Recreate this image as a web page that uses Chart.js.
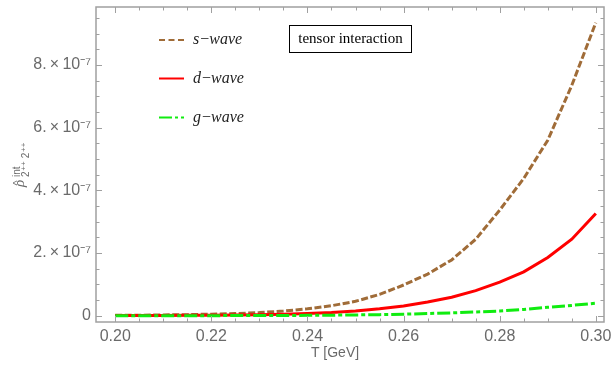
<!DOCTYPE html>
<html>
<head>
<meta charset="utf-8">
<script src="https://cdn.jsdelivr.net/npm/chart.js@4.4.1/dist/chart.umd.min.js"></script>
<style>
    html, body { margin: 0; padding: 0; background: #fff; }
    #wrap { width: 611px; height: 367px; }
</style>
</head>
<body>
<div id="wrap"><canvas id="chart" width="611" height="367"></canvas></div>
<script>
// T [GeV]
const temperatures = [
    0.200, 0.205, 0.210, 0.215, 0.220, 0.225, 0.230, 0.235, 0.240, 0.245, 0.250,
    0.255, 0.260, 0.265, 0.270, 0.275, 0.280, 0.285, 0.290, 0.295, 0.300
];

// values in units of 1e-7
const sWave = [
    0.012, 0.017, 0.025, 0.035, 0.05, 0.07, 0.10, 0.15, 0.22, 0.32, 0.46,
    0.68, 0.98, 1.33, 1.78, 2.44, 3.37, 4.38, 5.60, 7.35, 9.35
];
const dWave = [
    0.004, 0.006, 0.008, 0.012, 0.017, 0.025, 0.035, 0.05, 0.07, 0.10, 0.15,
    0.22, 0.31, 0.44, 0.59, 0.80, 1.07, 1.40, 1.86, 2.44, 3.26
];
const gWave = [
    0.0007, 0.001, 0.0015, 0.002, 0.003, 0.004, 0.006, 0.008, 0.012, 0.018, 0.025,
    0.035, 0.05, 0.07, 0.09, 0.12, 0.15, 0.20, 0.27, 0.33, 0.40
];
const valueUnit = 1e-7;

const xTickValues = [0.20, 0.22, 0.24, 0.26, 0.28, 0.30];
const xTickLabels = ['0.20', '0.22', '0.24', '0.26', '0.28', '0.30'];
const yTickValues = [0, 2e-7, 4e-7, 6e-7, 8e-7];
const yTickLabels = ['0', '2.\u2009\u00d7\u200910\u207b\u2077', '4.\u2009\u00d7\u200910\u207b\u2077', '6.\u2009\u00d7\u200910\u207b\u2077', '8.\u2009\u00d7\u200910\u207b\u2077'];
const boxLabel = 'tensor interaction';
const xTitle = 'T [GeV]';

const colors = {
    s: '#a06c38',
    d: '#ff0000',
    g: '#10ec10'
};
const dashes = {
    s: [7, 2.5],
    d: [],
    g: [13, 3, 4, 3]
};
const AXIS_GRAY = '#6a6a6a';
const FRAME_GRAY = '#a0a0a0';

function toPoints(values) {
    return temperatures.map((t, i) => ({ x: t, y: values[i] * valueUnit }));
}

function makeDataset(name, values, order) {
    return {
        label: name + '-wave',
        data: toPoints(values),
        borderColor: colors[name],
        borderDash: dashes[name],
        borderWidth: 3,
        pointRadius: 0,
        tension: 0,
        fill: false,
        order
    };
}

function dropScalePadding(scale) {
    scale.paddingTop = 0;
    scale.paddingBottom = 0;
    scale.paddingLeft = 0;
    scale.paddingRight = 0;
}

function drawTicks(ctx, area, xScale, yScale) {
    ctx.strokeStyle = FRAME_GRAY;
    ctx.lineWidth = 1;
    ctx.beginPath();
    for (let i = 0; i <= 20; i++) {
        const px = Math.round(xScale.getPixelForValue(0.2 + i * 0.005)) + 0.5;
        const len = i % 4 === 0 ? 6 : 3.5;
        ctx.moveTo(px, area.bottom);
        ctx.lineTo(px, area.bottom - len);
        ctx.moveTo(px, area.top);
        ctx.lineTo(px, area.top + len);
    }
    for (let i = 0; i <= 19; i++) {
        const py = Math.round(yScale.getPixelForValue(i * 0.5e-7)) + 0.5;
        const len = i % 4 === 0 ? 6 : 3.5;
        ctx.moveTo(area.left, py);
        ctx.lineTo(area.left + len, py);
        ctx.moveTo(area.right, py);
        ctx.lineTo(area.right - len, py);
    }
    ctx.stroke();
}

function drawYLabel(ctx) {
    ctx.save();
    ctx.translate(24, 187);
    ctx.rotate(-Math.PI / 2);
    ctx.fillStyle = AXIS_GRAY;
    ctx.textAlign = 'left';
    ctx.textBaseline = 'alphabetic';
    ctx.font = 'italic 15px "Liberation Serif"';
    ctx.fillText('\u03c1', 0, 0);
    ctx.font = '11px "Liberation Sans"';
    ctx.fillText('^', 1.5, -3);
    ctx.font = '10px "Liberation Sans"';
    ctx.fillText('int', 10, -4);
    let x = 10;
    for (const part of ['2', '++', '2', '++']) {
        if (part.endsWith('+')) {
            ctx.font = '8px "Liberation Sans"';
            ctx.fillText(part, x, 1.5);
            x += ctx.measureText(part).width + 3;
        } else {
            ctx.font = '10px "Liberation Sans"';
            ctx.fillText(part, x, 4.5);
            x += ctx.measureText(part).width + 0.8;
        }
    }
    ctx.restore();
}

function drawLegend(ctx) {
    const rows = [
        { name: 's', y: 40 },
        { name: 'd', y: 78.5 },
        { name: 'g', y: 117.5 }
    ];
    for (const row of rows) {
        ctx.save();
        ctx.strokeStyle = colors[row.name];
        ctx.lineWidth = 2;
        ctx.setLineDash(row.name === 's' ? [6, 3.5] : row.name === 'g' ? [13, 3, 3, 3] : []);
        ctx.beginPath();
        ctx.moveTo(159, row.y);
        ctx.lineTo(184, row.y);
        ctx.stroke();
        ctx.restore();

        ctx.fillStyle = '#222';
        ctx.textBaseline = 'alphabetic';
        ctx.textAlign = 'left';
        ctx.font = 'italic 16px "Liberation Serif"';
        ctx.fillText(row.name, 193, row.y + 4);
        let x = 193 + ctx.measureText(row.name).width + 1;
        ctx.font = '16px "Liberation Serif"';
        ctx.fillText('\u2212', x, row.y + 4);
        x += ctx.measureText('\u2212').width;
        ctx.font = 'italic 16px "Liberation Serif"';
        ctx.fillText('wave', x, row.y + 4);
    }

    ctx.strokeStyle = '#000';
    ctx.lineWidth = 1;
    ctx.strokeRect(289.5, 25.5, 122, 27);
    ctx.fillStyle = '#000';
    ctx.font = '15px "Liberation Serif"';
    ctx.textAlign = 'center';
    ctx.fillText(boxLabel, 350.5, 43);
}

const decorPlugin = {
    id: 'decor',
    afterDatasetsDraw(chart) {
        const { ctx, chartArea: area, scales } = chart;
        ctx.save();
        ctx.strokeStyle = FRAME_GRAY;
        ctx.lineWidth = 1.5;
        ctx.strokeRect(area.left, area.top, area.right - area.left, area.bottom - area.top);
        drawTicks(ctx, area, scales.x, scales.y);
        ctx.restore();
    },
    afterDraw(chart) {
        const ctx = chart.ctx;
        ctx.save();
        drawYLabel(ctx);
        drawLegend(ctx);
        ctx.fillStyle = AXIS_GRAY;
        ctx.font = '14px "Liberation Sans"';
        ctx.textAlign = 'center';
        ctx.textBaseline = 'middle';
        ctx.fillText(xTitle, 335, 353);
        ctx.restore();
    }
};

new Chart(document.getElementById('chart'), {
    type: 'line',
    data: {
        datasets: [
            makeDataset('s', sWave, 3),
            makeDataset('d', dWave, 2),
            makeDataset('g', gWave, 1)
        ]
    },
    options: {
        responsive: false,
        animation: false,
        layout: {
            padding: { top: 7, right: 7, left: 0, bottom: 0 }
        },
        plugins: {
            legend: { display: false },
            tooltip: { enabled: false }
        },
        scales: {
            x: {
                type: 'linear',
                min: 0.196,
                max: 0.3017,
                grid: { display: false, drawTicks: false },
                border: { display: false },
                afterFit: (scale) => {
                    scale.height = 45;
                    dropScalePadding(scale);
                },
                afterBuildTicks: (scale) => {
                    scale.ticks = xTickValues.map((value) => ({ value }));
                },
                ticks: {
                    autoSkip: false,
                    maxRotation: 0,
                    padding: 5,
                    color: AXIS_GRAY,
                    font: { family: 'Liberation Sans', size: 16 },
                    callback: (value) => xTickLabels[xTickValues.findIndex((v) => Math.abs(v - value) < 1e-6)]
                }
            },
            y: {
                type: 'linear',
                min: -0.2e-7,
                max: 9.85e-7,
                grid: { display: false, drawTicks: false },
                border: { display: false },
                afterFit: (scale) => {
                    scale.width = 96;
                    dropScalePadding(scale);
                },
                afterBuildTicks: (scale) => {
                    scale.ticks = yTickValues.map((value) => ({ value }));
                },
                ticks: {
                    autoSkip: false,
                    padding: 5,
                    color: AXIS_GRAY,
                    font: { family: 'Liberation Sans', size: 16 },
                    callback: (value) => yTickLabels[yTickValues.findIndex((v) => Math.abs(v - value) < 1e-12)]
                }
            }
        }
    },
    plugins: [decorPlugin]
});
</script>
</body>
</html>
